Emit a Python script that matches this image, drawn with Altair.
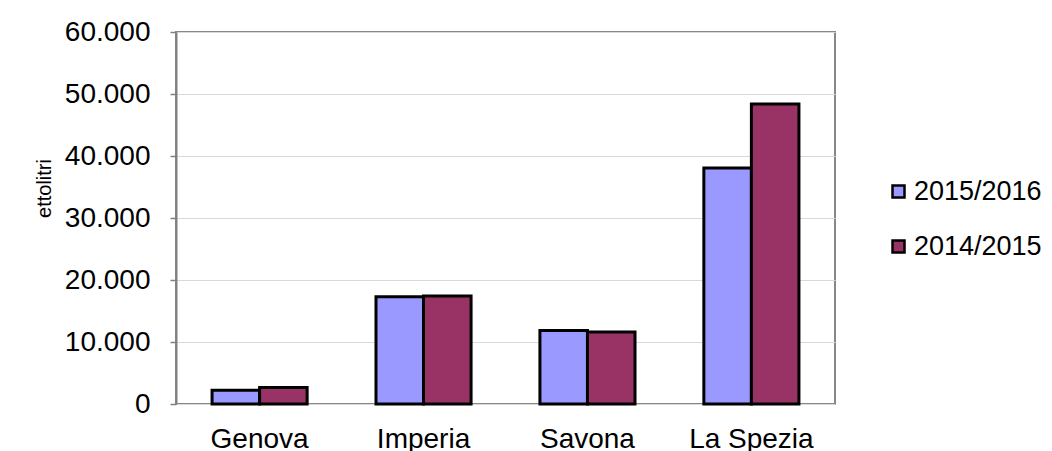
import altair as alt
import pandas as pd

cities = ["Genova", "Imperia", "Savona", "La Spezia"]
seasons = ["2015/2016", "2014/2015"]
v_2015_2016 = [2200, 17300, 11850, 38050]
v_2014_2015 = [2650, 17400, 11600, 48400]
y_ticks = [0, 10000, 20000, 30000, 40000, 50000, 60000]

rows = []
for c, a, b in zip(cities, v_2015_2016, v_2014_2015):
    rows.append({"city": c, "season": seasons[0], "value": a})
    rows.append({"city": c, "season": seasons[1], "value": b})
df = pd.DataFrame(rows)

font = "Liberation Sans"

chart = alt.Chart(df).mark_bar(stroke="black", strokeWidth=3, strokeJoin="miter").encode(
    x=alt.X("city:N", sort=cities,
            scale=alt.Scale(paddingInner=0.42, paddingOuter=0.22),
            axis=alt.Axis(title=None, labelAngle=0, ticks=False, domain=False, grid=False,
                          labelFont=font, labelFontSize=28, labelColor="black", labelPadding=21)),
    xOffset=alt.XOffset("season:N", sort=seasons, scale=alt.Scale(paddingInner=0, paddingOuter=0)),
    y=alt.Y("value:Q", scale=alt.Scale(domain=[0, 60000], nice=False),
            axis=alt.Axis(values=y_ticks,
                          labelExpr="replace(format(datum.value, ','), ',', '.')",
                          title="ettolitri", titleFont=font, titleFontSize=20, titleFontWeight="normal",
                          titleColor="black", titleAngle=270, titleX=-132, titleY=156,
                          titleAlign="center", titleBaseline="middle",
                          labelFont=font, labelFontSize=28, labelColor="black", labelPadding=20,
                          tickSize=6, tickColor="#808080", tickWidth=1.5,
                          domainColor="#808080", domainWidth=2,
                          grid=True, gridColor="#d9d9d9", gridWidth=1)),
    color=alt.Color("season:N", sort=seasons,
                    scale=alt.Scale(domain=seasons, range=["#9999FF", "#993366"]),
                    legend=alt.Legend(title=None, orient="none", legendX=709, legendY=146,
                                      symbolType="square", symbolSize=144, symbolStrokeColor="black",
                                      symbolStrokeWidth=2.5, labelFont=font, labelFontSize=27,
                                      labelColor="black", rowPadding=27, labelOffset=2))
).properties(
    width=659, height=372,
    autosize=alt.AutoSizeParams(type="none"),
    padding={"left": 168, "top": 24, "right": 209, "bottom": 47}
).configure_view(stroke="#888888", strokeWidth=2)

chart.save("out.html", embed_options={"renderer": "svg", "actions": False})
